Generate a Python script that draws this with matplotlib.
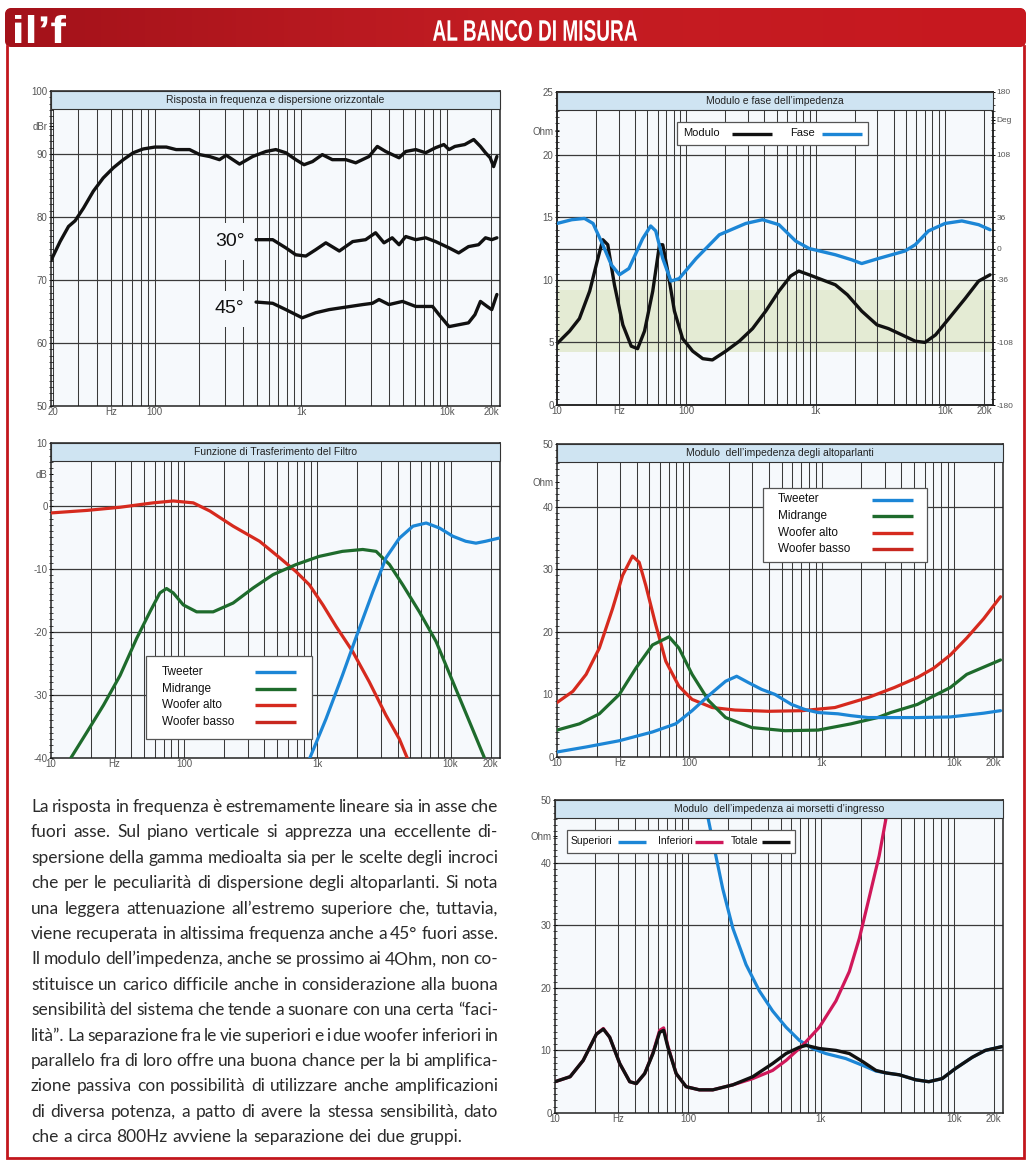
import matplotlib
matplotlib.use('Agg')
import matplotlib.pyplot as plt
from matplotlib.lines import Line2D
from matplotlib.patches import Rectangle, FancyBboxPatch, PathPatch
from matplotlib.ticker import MultipleLocator, NullLocator, NullFormatter
from matplotlib.textpath import TextPath
from matplotlib.font_manager import FontProperties
from matplotlib.transforms import Affine2D
import numpy as np

W, H = 1030, 1163

# ---- data (freq Hz, value) ----
resp_on = [(19.5, 73.1), (22.5, 76.1), (25.7, 78.5), (28.5, 79.4), (32.5, 81.4), (38, 84.1), (44.4, 86.2),
           (52, 87.8), (60.9, 89.1), (71.2, 90.2), (83.3, 90.8), (100, 91.1), (120, 91.1), (140, 90.7),
           (173, 90.7), (203, 89.9), (237, 89.6), (277, 89.1), (308, 89.8), (380, 88.4), (467, 89.6),
           (576, 90.4), (673, 90.7), (788, 90.2), (922, 89.1), (1050, 88.3), (1200, 88.8), (1400, 89.9),
           (1640, 89.1), (2030, 89.1), (2370, 88.6), (2920, 89.6), (3330, 91.2), (3800, 90.4), (4690, 89.4),
           (5210, 90.4), (6100, 90.7), (7130, 90.2), (8340, 91.0), (9500, 91.5), (10300, 90.7), (11300, 91.2),
           (13200, 91.5), (15200, 92.3), (16900, 91.2), (18300, 90.2), (19700, 89.4), (20800, 88.0), (21900, 89.6)]
resp_30 = [(493, 76.4), (641, 76.4), (788, 75.1), (922, 74.0), (1080, 73.8), (1260, 74.8), (1480, 75.9),
           (1830, 74.6), (2260, 76.1), (2770, 76.4), (3240, 77.5), (3700, 75.9), (4210, 76.7), (4690, 75.6),
           (5210, 76.9), (6100, 76.4), (7130, 76.7), (8340, 76.1), (10300, 75.1), (12000, 74.3), (14000, 75.3),
           (16400, 75.6), (18300, 76.7), (20200, 76.4), (21900, 76.7)]
resp_45 = [(493, 66.5), (641, 66.3), (788, 65.3), (1020, 64.0), (1260, 64.8), (1560, 65.3), (2030, 65.7),
           (2650, 66.1), (3080, 66.3), (3420, 66.9), (4000, 66.1), (4950, 66.6), (6100, 65.8), (7950, 65.8),
           (8800, 64.5), (10300, 62.6), (12000, 62.9), (14000, 63.2), (15500, 64.5), (16900, 66.6),
           (18800, 65.8), (20200, 65.3), (21900, 67.7)]

imp_mod = [(10, 4.9), (12.5, 5.9), (14.9, 6.9), (17.9, 9.1), (20.7, 11.7), (22.6, 13.2), (24.7, 12.8),
           (27.8, 9.6), (32.3, 6.4), (37.5, 4.7), (42, 4.5), (47.5, 5.9), (55, 9.1), (62, 12.8), (65.7, 12.8),
           (71.8, 10.7), (80.9, 7.5), (93.6, 5.3), (112, 4.3), (134, 3.7), (159, 3.6), (202, 4.3), (257, 5.1),
           (325, 6.1), (411, 7.5), (520, 9.1), (640, 10.3), (740, 10.7), (890, 10.4), (1060, 10.1), (1420, 9.6),
           (1760, 8.8), (2270, 7.5), (2980, 6.4), (3660, 6.1), (4650, 5.6), (5880, 5.1), (7000, 5.0),
           (8450, 5.6), (10700, 6.9), (14300, 8.5), (18200, 9.9), (22300, 10.4)]
imp_phase = [(10, 28.8), (13, 33.1), (16.3, 34.6), (19, 28.8), (22.6, 4.3), (26.3, -18.7), (30.4, -30.2),
             (36, -23.0), (46, 11.5), (53, 25.9), (58, 20.2), (65.7, -11.5), (76, -37.4), (88, -34.6),
             (119, -11.5), (180, 15.8), (288, 28.8), (388, 33.1), (520, 27.4), (700, 8.6), (890, 0.0),
             (1420, -7.2), (1900, -13.0), (2270, -17.3), (3060, -11.5), (3870, -7.2), (4900, -2.9),
             (5880, 4.3), (7450, 20.2), (10000, 28.8), (13500, 31.7), (18200, 27.4), (22300, 21.6)]

flt_woofer = [(10, -1.1), (18.6, -0.7), (33, -0.2), (58.5, 0.5), (82.8, 0.8), (117, 0.5), (156, -0.8),
              (233, -3.2), (368, -5.6), (520, -8.2), (690, -10.4), (870, -12.5), (1100, -15.7), (1380, -19.1),
              (1840, -23.1), (2450, -27.9), (3270, -33.2), (4130, -37.0), (4770, -40.2)]
flt_mid = [(13.9, -40.2), (18.6, -35.9), (24.8, -31.6), (33, -26.9), (44, -21.0), (55.3, -16.8), (65.7, -13.8),
           (73.7, -13.1), (82.8, -13.8), (98.5, -15.7), (124, -16.8), (165, -16.8), (233, -15.4), (330, -13.0),
           (464, -10.9), (690, -9.3), (1030, -8.0), (1540, -7.2), (2190, -6.9), (2760, -7.2), (3480, -9.3),
           (4370, -12.5), (5830, -16.8), (7780, -21.5), (10400, -27.9), (13900, -34.3), (17900, -39.9)]
flt_tweeter = [(870, -40.2), (1160, -33.8), (1540, -26.9), (1940, -21.0), (2610, -13.6), (3280, -8.2),
               (4130, -5.1), (5220, -3.2), (6560, -2.7), (8260, -3.5), (10400, -4.8), (13000, -5.6),
               (15500, -5.9), (18300, -5.6), (23000, -5.1)]

spk_woofer = [(10, 8.7), (13.2, 10.5), (16.6, 13.2), (20.9, 17.4), (26.3, 23.7), (31.3, 29.0), (37.2, 32.1),
              (41.8, 31.1), (46.9, 27.4), (55.8, 21.1), (66.4, 15.3), (83.5, 11.3), (105, 9.2), (149, 7.9),
              (222, 7.5), (397, 7.3), (710, 7.4), (1260, 7.9), (2250, 9.5), (3550, 11.1), (5300, 12.7),
              (7050, 14.2), (9400, 16.3), (12500, 19.0), (16800, 22.1), (22500, 25.6)]
spk_mid = [(10, 4.3), (14.8, 5.3), (20.9, 6.9), (29.6, 10.0), (39.5, 14.2), (52.7, 17.9), (70.3, 19.2),
           (83.5, 17.4), (105, 13.2), (140, 9.0), (188, 6.3), (297, 4.7), (528, 4.2), (940, 4.3), (1670, 5.3),
           (2650, 6.3), (3330, 7.1), (5300, 8.4), (6660, 9.5), (9400, 11.1), (12500, 13.2), (22500, 15.5)]
spk_tweeter = [(10, 0.8), (16.6, 1.6), (29.6, 2.6), (52.7, 4.0), (78.9, 5.3), (105, 7.4), (140, 9.8),
               (188, 12.1), (228, 12.9), (279, 11.9), (352, 10.8), (444, 10.0), (592, 8.4), (745, 7.6),
               (940, 7.1), (1330, 6.9), (1670, 6.6), (2250, 6.3), (2990, 6.3), (5300, 6.3), (9400, 6.4),
               (16800, 7.0), (22500, 7.4)]

in_total = [(10, 5.0), (13, 5.8), (16.3, 8.4), (20.5, 12.6), (23.1, 13.4), (25.8, 12.1), (30.7, 7.9),
            (36.5, 5.0), (40.9, 4.7), (47.3, 6.3), (54.6, 9.5), (61.3, 12.9), (65.7, 13.2), (70.7, 10.5),
            (81.6, 6.3), (97, 4.2), (122, 3.7), (154, 3.7), (218, 4.5), (308, 5.8), (434, 7.9), (548, 9.5),
            (690, 10.5), (775, 10.8), (975, 10.3), (1300, 10.0), (1640, 9.5), (2070, 8.2), (2600, 6.8),
            (3100, 6.4), (3900, 6.1), (5200, 5.3), (6500, 5.0), (8200, 5.5), (10300, 7.1), (13800, 8.9),
            (17300, 10.0), (23000, 10.6)]
in_upper = [(133, 50), (153, 43.7), (183, 35.8), (218, 29.5), (274, 23.7), (345, 19.5), (434, 16.3),
            (548, 13.7), (690, 11.6), (868, 10.3), (1090, 9.5), (1540, 8.7), (2070, 7.6), (2600, 6.7),
            (3100, 6.4), (3900, 6.1), (5200, 5.3), (6500, 5.0), (8200, 5.5), (10300, 7.1), (13800, 8.9),
            (17300, 10.0), (23000, 10.6)]
in_lower = [(10, 5.0), (13, 5.8), (16.3, 8.4), (20.5, 12.6), (23.1, 13.5), (25.8, 12.1), (30.7, 7.9),
            (36.5, 5.0), (40.9, 4.7), (47.3, 6.3), (54.6, 9.6), (61.3, 13.2), (65.7, 13.6), (70.7, 10.7),
            (81.6, 6.3), (97, 4.2), (122, 3.7), (154, 3.7), (218, 4.5), (308, 5.5), (434, 6.8), (548, 8.4),
            (730, 10.8), (975, 13.7), (1300, 17.9), (1640, 22.6), (1950, 27.9), (2300, 34.2), (2750, 41.1),
            (3080, 46.8), (3260, 50.5)]

paragraph = [
    "La risposta in frequenza è estremamente lineare sia in asse che",
    "fuori asse. Sul piano verticale si apprezza una eccellente di-",
    "spersione della gamma medioalta sia per le scelte degli incroci",
    "che per le peculiarità di dispersione degli altoparlanti. Si nota",
    "una leggera attenuazione all’estremo superiore che, tuttavia,",
    "viene recuperata in altissima frequenza anche a 45° fuori asse.",
    "Il modulo dell’impedenza, anche se prossimo ai 4Ohm, non co-",
    "stituisce un carico difficile anche in considerazione alla buona",
    "sensibilità del sistema che tende a suonare con una certa “faci-",
    "lità”. La separazione fra le vie superiori e i due woofer inferiori in",
    "parallelo fra di loro offre una buona chance per la bi amplifica-",
    "zione passiva con possibilità di utilizzare anche amplificazioni",
    "di diversa potenza, a patto di avere la stessa sensibilità, dato",
    "che a circa 800Hz avviene la separazione dei due gruppi.",
]

BLUE = '#1c86d6'
GREEN = '#1e6b2c'
RED = '#d62a1e'
RED2 = '#c8281f'
CRIMSON = '#d0185a'
INK = '#111111'
GRID = '#3a3a3a'

plt.rcParams['font.family'] = ['Liberation Sans', 'DejaVu Sans']

fig = plt.figure(figsize=(W / 100, H / 100), dpi=100)
fig.patch.set_facecolor('white')

# background axes in pixel coordinates for page decoration
bg = fig.add_axes([0, 0, 1, 1], zorder=-5)
bg.set_xlim(0, W)
bg.set_ylim(H, 0)
bg.axis('off')

# overlay axes (pixel coordinates) for legends
ov = fig.add_axes([0, 0, 1, 1], zorder=10)
ov.set_xlim(0, W)
ov.set_ylim(H, 0)
ov.axis('off')
ov.patch.set_visible(False)


def path_text(ax, s, box, weight='bold', color='white', z=3):
    # text drawn as a path squeezed into a pixel box (x0, y0, x1, y1)
    tp = TextPath((0, 0), s, size=100, prop=FontProperties(family='Liberation Sans', weight=weight))
    e = tp.get_extents()
    x0, y0, x1, y1 = box
    tr = Affine2D().translate(-e.x0, -e.y0).scale((x1 - x0) / e.width, -(y1 - y0) / e.height).translate(x0, y1)
    ax.add_patch(PathPatch(tr.transform_path(tp), facecolor=color, edgecolor='none', zorder=z))


# red header band with a gradient
band = FancyBboxPatch((5, 8), 1021, 39, boxstyle='round,pad=0,rounding_size=7',
                      facecolor='#c01a20', edgecolor='none')
bg.add_patch(band)
grad = np.linspace(0, 1, 256).reshape(1, -1)
im = bg.imshow(grad, extent=(5, 1026, 47, 8), cmap=matplotlib.colors.LinearSegmentedColormap.from_list(
    'hdr', ['#a3121a', '#c41d23', '#c7181f']), aspect='auto', zorder=1)
im.set_clip_path(band)
path_text(bg, 'AL BANCO DI MISURA', (433, 20, 637, 41))
path_text(bg, 'il’f', (15, 15, 66, 43))
# red page frame
bg.plot([7, 7, 1024, 1024], [46, 1158, 1158, 46], color='#c2161d', lw=2, solid_joinstyle='miter')


def px_axes(x0, y0, x1, y1, **kw):
    return fig.add_axes([x0 / W, 1 - y1 / H, (x1 - x0) / W, (y1 - y0) / H], **kw)


def add_title(ax, title, height_px):
    h = 18 / height_px
    ax.add_patch(Rectangle((0, 1 - h), 1, h, transform=ax.transAxes, facecolor='#cfe4f2',
                           edgecolor='#333333', lw=0.8, zorder=5, clip_on=False))
    ax.text(0.5, 1 - h / 2, title, transform=ax.transAxes, ha='center', va='center',
            fontsize=7.5, color='#222222', zorder=6)


def setup(ax, xlim, ylim, hlines, yt, ytl, xt, xtl, title, height_px, minor_step):
    ax.set_xscale('log')
    ax.set_xlim(*xlim)
    ax.set_ylim(*ylim)
    ax.set_facecolor('#f6f9fc')
    for dec in range(0, 5):
        for k in range(1, 10):
            f = k * 10 ** dec
            if xlim[0] < f < xlim[1]:
                ax.axvline(f, color=GRID, lw=0.75, zorder=1)
    for h in hlines:
        ax.axhline(h, color=GRID, lw=0.9, zorder=1)
    ax.set_yticks(yt)
    ax.set_yticklabels(ytl)
    ax.yaxis.set_minor_locator(MultipleLocator(minor_step))
    ax.set_xticks(xt)
    ax.set_xticklabels(xtl)
    ax.xaxis.set_minor_locator(NullLocator())
    ax.xaxis.set_minor_formatter(NullFormatter())
    ax.tick_params(axis='x', length=0, pad=1, labelsize=7, labelcolor='#555555')
    ax.tick_params(axis='y', which='major', direction='inout', length=3, width=0.7, pad=1,
                   labelsize=7, labelcolor='#555555')
    ax.tick_params(axis='y', which='minor', direction='inout', length=2.5, width=0.5)
    for s in ax.spines.values():
        s.set_color('#222222')
        s.set_linewidth(1.1)
    if title:
        add_title(ax, title, height_px)


def draw(ax, pts, color, lw=2.3, z=3):
    f, v = zip(*pts)
    return ax.plot(f, v, color=color, lw=lw, zorder=z, solid_joinstyle='round', solid_capstyle='round')[0]


def px_legend(box, items, fs=8):
    x0, y0, x1, y1 = box
    ov.add_patch(Rectangle((x0, y0), x1 - x0, y1 - y0, facecolor='white', edgecolor='#555555', lw=0.9))
    for label, tx, lx0, lx1, y, color in items:
        ov.text(tx, y, label, fontsize=fs, ha='left', va='center', color='#111111')
        ov.plot([lx0, lx1], [y, y], color=color, lw=2.4, solid_capstyle='butt')


x_labels = ['10', 'Hz', '100', '1k', '10k', '20k']
x_ticks = [10, 30, 100, 1000, 10000, 20000]
legend_names = ['Tweeter', 'Midrange', 'Woofer alto', 'Woofer basso']
legend_cols = [BLUE, GREEN, RED, RED2]

# ---- chart 1: frequency response ----
ax1 = px_axes(51, 91, 500, 406)
setup(ax1, (19.5, 23000), (50, 100), [60, 70, 80, 90],
      [50, 60, 70, 80, 90, 94.5, 100], ['50', '60', '70', '80', '90', 'dBr', '100'],
      [20, 50, 100, 1000, 10000, 20000], ['20', 'Hz', '100', '1k', '10k', '20k'],
      'Risposta in frequenza e dispersione orizzontale', 315, 1)
draw(ax1, resp_on, INK, 2.4)
draw(ax1, resp_30, INK, 2.4)
draw(ax1, resp_45, INK, 2.4)
for lab, yv in (('30°', 76.1), ('45°', 65.4)):
    ax1.text(325, yv, lab, fontsize=14, ha='center', va='center', color=INK, zorder=4,
             bbox=dict(facecolor='#f6f9fc', edgecolor='none', pad=7))

# ---- chart 2: impedance modulus and phase ----
ax2 = px_axes(557, 92, 993, 405)
setup(ax2, (10, 23500), (0, 25), [5, 10, 12.5, 15, 20],
      [0, 5, 10, 15, 20, 21.9, 25], ['0', '5', '10', '15', '20', 'Ohm', '25'],
      x_ticks, x_labels, '', 313, 0.5)
ax2.axhspan(4.2, 9.2, color='#e4ebd4', zorder=0.5, lw=0)
ax2.axhspan(9.2, 10.0, color='#edf1e4', zorder=0.5, lw=0)
draw(ax2, imp_mod, INK, 2.4)
ax2b = ax2.twinx()
ax2b.set_ylim(-180, 180)
ax2b.set_xlim(10, 23500)
ax2b.set_yticks([-180, -108, -36, 0, 36, 108, 148, 180])
ax2b.set_yticklabels(['-180', '-108', '-36', '0', '36', '108', 'Deg', '180'])
ax2b.yaxis.set_minor_locator(MultipleLocator(7.2))
ax2b.tick_params(axis='y', which='major', direction='inout', length=3, width=0.7, pad=1,
                 labelsize=6, labelcolor='#555555')
ax2b.tick_params(axis='y', which='minor', direction='inout', length=2.5, width=0.5)
ax2b.xaxis.set_minor_locator(NullLocator())
for s in ax2b.spines.values():
    s.set_color('#222222')
    s.set_linewidth(1.1)
draw(ax2b, imp_phase, BLUE, 2.4)
add_title(ax2b, 'Modulo e fase dell’impedenza', 313)
px_legend((677, 122, 868, 145), [('Modulo', 683, 732, 772, 133.5, INK),
                                 ('Fase', 790, 822, 862, 133.5, BLUE)])

# ---- chart 3: filter transfer function ----
ax3 = px_axes(51, 443, 500, 758)
setup(ax3, (10, 23500), (-40, 10), [-30, -20, -10, 0],
      [-40, -30, -20, -10, 0, 5, 10], ['-40', '-30', '-20', '-10', '0', 'dB', '10'],
      x_ticks, x_labels, 'Funzione di Trasferimento del Filtro', 315, 1)
draw(ax3, flt_woofer, RED)
draw(ax3, flt_mid, GREEN)
draw(ax3, flt_tweeter, BLUE)
px_legend((146, 656, 312, 739), [(n, 162, 255, 296, 672 + 16.7 * i, c)
                                 for i, (n, c) in enumerate(zip(legend_names, legend_cols))], fs=8.5)

# ---- chart 4: driver impedance ----
ax4 = px_axes(557, 444, 1003, 757)
setup(ax4, (10, 23500), (0, 50), [10, 20, 30, 40],
      [0, 10, 20, 30, 40, 44, 50], ['0', '10', '20', '30', '40', 'Ohm', '50'],
      x_ticks, x_labels, 'Modulo  dell’impedenza degli altoparlanti', 313, 1)
draw(ax4, spk_woofer, RED)
draw(ax4, spk_mid, GREEN)
draw(ax4, spk_tweeter, BLUE)
px_legend((763, 488, 927, 562), [(n, 778, 872, 913, 499.5 + 16.6 * i, c)
                                 for i, (n, c) in enumerate(zip(legend_names, legend_cols))], fs=8.5)

# ---- chart 5: input impedance ----
ax5 = px_axes(555, 800, 1003, 1113)
setup(ax5, (10, 23500), (0, 50), [10, 20, 30, 40],
      [0, 10, 20, 30, 40, 44.2, 50], ['0', '10', '20', '30', '40', 'Ohm', '50'],
      x_ticks, x_labels, 'Modulo  dell’impedenza ai morsetti d’ingresso', 313, 1)
draw(ax5, in_upper, BLUE)
draw(ax5, in_lower, CRIMSON)
draw(ax5, in_total, INK, 2.4)
px_legend((567, 830, 795, 853), [('Superiori', 571, 618, 646, 841.5, BLUE),
                                 ('Inferiori', 658, 695, 723, 841.5, CRIMSON),
                                 ('Totale', 731, 762, 790, 841.5, INK)], fs=7.5)

# ---- justified paragraph ----
renderer = fig.canvas.get_renderer()
PAR_FONT = 'Lato'
par_x0, par_x1 = 31, 498
par_y0, pitch = 812, 25.4
span = par_x1 - par_x0


def text_w(s, fs):
    t = bg.text(0, 0, s, fontsize=fs, family=PAR_FONT)
    w = t.get_window_extent(renderer).width
    t.remove()
    return w


def fits(fs):
    sw = text_w('x x', fs) - text_w('xx', fs)
    for l in paragraph[:-1]:
        words = l.split(' ')
        if sum(text_w(w, fs) for w in words) + 0.55 * sw * (len(words) - 1) > span:
            return False
    return True


fs = 13.0
while not fits(fs) and fs > 7:
    fs -= 0.25
space_w = text_w('x x', fs) - text_w('xx', fs)
for i, line in enumerate(paragraph):
    y = par_y0 + i * pitch
    words = line.split(' ')
    widths = [text_w(w, fs) for w in words]
    if i < len(paragraph) - 1 and len(words) > 1:
        gap = (span - sum(widths)) / (len(words) - 1)
    else:
        gap = space_w
    x = par_x0
    for w, ww in zip(words, widths):
        bg.text(x, y, w, fontsize=fs, family=PAR_FONT, color='#2b2b2b', ha='left', va='baseline')
        x += ww + gap

fig.savefig('out.png', dpi=100, facecolor='white')
